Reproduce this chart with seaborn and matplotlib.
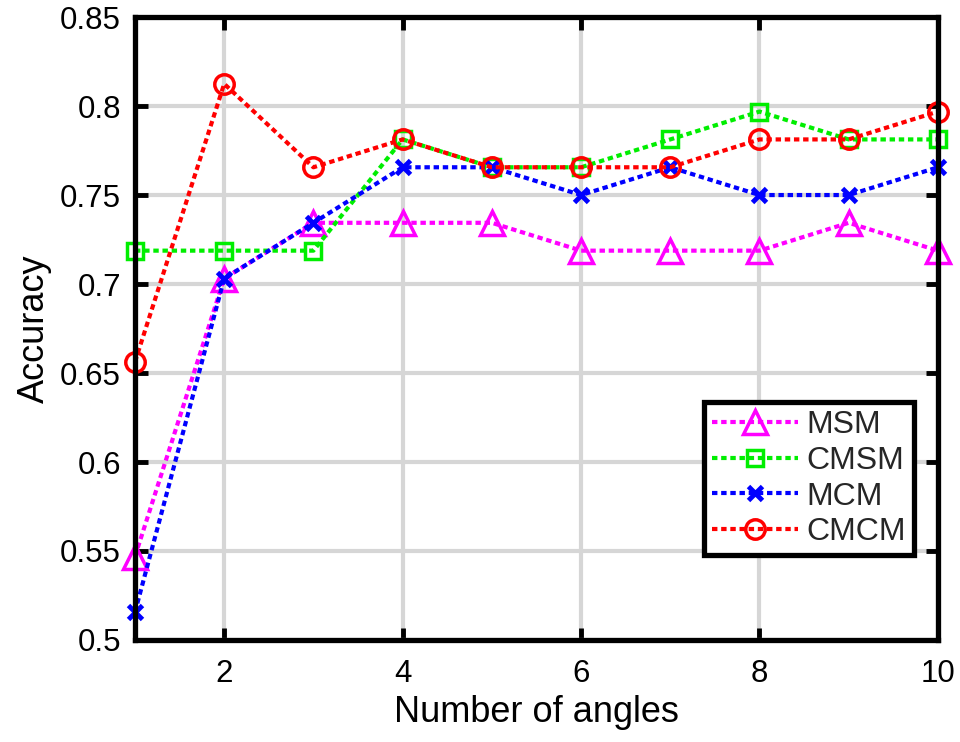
import matplotlib
matplotlib.use("Agg")
import matplotlib.pyplot as plt
import seaborn as sns
import pandas as pd

angles = [1, 2, 3, 4, 5, 6, 7, 8, 9, 10]
msm = [0.5469, 0.7031, 0.7344, 0.7344, 0.7344, 0.71875, 0.71875, 0.71875, 0.7344, 0.71875]
cmsm = [0.71875, 0.71875, 0.71875, 0.78125, 0.7656, 0.7656, 0.78125, 0.7969, 0.78125, 0.78125]
mcm = [0.5156, 0.7031, 0.7344, 0.7656, 0.7656, 0.75, 0.7656, 0.75, 0.75, 0.7656]
cmcm = [0.65625, 0.8125, 0.7656, 0.78125, 0.7656, 0.7656, 0.7656, 0.78125, 0.78125, 0.7969]
series_names = ["MSM", "CMSM", "MCM", "CMCM"]
x_ticks = [2, 4, 6, 8, 10]
y_ticks = [0.5, 0.55, 0.6, 0.65, 0.7, 0.75, 0.8, 0.85]
y_tick_labels = ["0.5", "0.55", "0.6", "0.65", "0.7", "0.75", "0.8", "0.85"]

sns.set_theme(style="white")
plt.rcParams["font.family"] = ["Liberation Sans", "DejaVu Sans"]

fig = plt.figure(figsize=(9.6, 7.42), dpi=100)
ax = fig.add_axes([0.1406, 0.1375, 0.8364, 0.8395])

styles = {
    "MSM": dict(color="#ff00ff", marker="^", ms=17, mew=2.5),
    "CMSM": dict(color="#00ee00", marker="s", ms=11, mew=2.5),
    "MCM": dict(color="#0000ff", marker="x", ms=10, mew=3.5),
    "CMCM": dict(color="#ff0000", marker="o", ms=14, mew=2.5),
}
data = {"MSM": msm, "CMSM": cmsm, "MCM": mcm, "CMCM": cmcm}

for name in series_names:
    st = styles[name]
    df = pd.DataFrame({"Number of angles": angles, "Accuracy": data[name]})
    sns.lineplot(data=df, x="Number of angles", y="Accuracy", ax=ax,
                 color=st["color"], marker=st["marker"], markersize=st["ms"],
                 markerfacecolor="none", markeredgecolor=st["color"],
                 markeredgewidth=st["mew"], linewidth=3.0, dashes=False,
                 label=name, clip_on=False, zorder=3)
    ax.lines[-1].set_dashes((1.3, 0.9))

ax.set_xlim(1, 10)
ax.set_ylim(0.5, 0.85)
ax.set_xticks(x_ticks)
ax.set_yticks(y_ticks)
ax.set_yticklabels(y_tick_labels)
ax.grid(True, color="#d6d6d6", linewidth=3)
ax.set_axisbelow(True)
for sp in ax.spines.values():
    sp.set_visible(True)
    sp.set_color("black")
    sp.set_linewidth(3.8)
    sp.set_zorder(4)
ax.tick_params(axis="both", direction="in", length=9, width=3.5, labelsize=22.5,
               top=True, right=True, bottom=True, left=True, colors="black")
ax.tick_params(axis="x", pad=14)
ax.tick_params(axis="y", pad=10)
for lab in ax.get_xticklabels() + ax.get_yticklabels():
    lab.set_color("black")
ax.set_xlabel("Number of angles", fontsize=26, color="black", labelpad=4)
ax.set_ylabel("Accuracy", fontsize=26, color="black", labelpad=6)

leg = ax.legend(loc="lower right", bbox_to_anchor=(0.970, 0.136), borderaxespad=0,
                fontsize=23, frameon=True, fancybox=False, edgecolor="black",
                framealpha=1, handlelength=2.7, borderpad=0.25, labelspacing=0.18,
                handletextpad=0.25)
leg.get_frame().set_linewidth(3.8)
leg.set_zorder(5)

fig.savefig("out.png", dpi=100)
